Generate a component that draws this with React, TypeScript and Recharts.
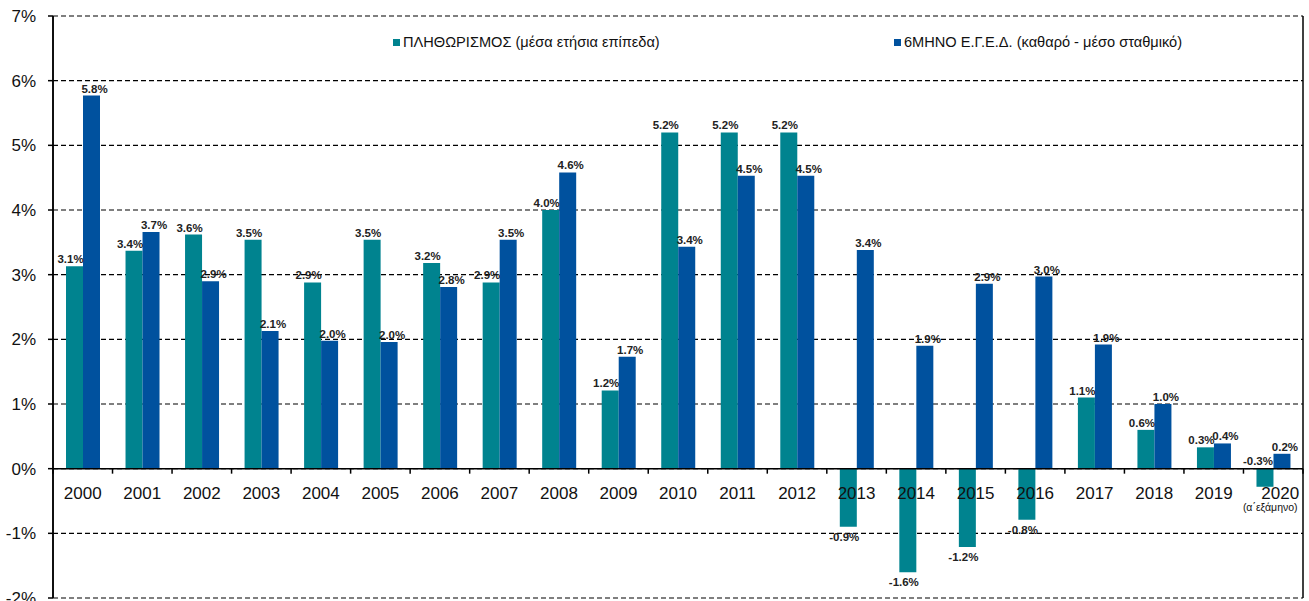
import React from 'react';
import { BarChart, Bar, XAxis, YAxis, CartesianGrid, ReferenceLine, LabelList } from 'recharts';

const years = ['2000', '2001', '2002', '2003', '2004', '2005', '2006', '2007', '2008', '2009', '2010', '2011', '2012', '2013', '2014', '2015', '2016', '2017', '2018', '2019', '2020'];
const inflation = [3.13, 3.37, 3.62, 3.54, 2.88, 3.54, 3.18, 2.88, 4.0, 1.21, 5.2, 5.2, 5.2, -0.9, -1.6, -1.21, -0.79, 1.1, 0.6, 0.33, -0.28];
const budget = [5.77, 3.66, 2.9, 2.13, 1.98, 1.96, 2.81, 3.54, 4.58, 1.73, 3.43, 4.53, 4.53, 3.38, 1.9, 2.86, 2.97, 1.92, 1.0, 0.39, 0.23];
const yTicks = [-2, -1, 0, 1, 2, 3, 4, 5, 6, 7];
const seriesNames = ['ΠΛΗΘΩΡΙΣΜΟΣ (μέσα ετήσια επίπεδα)', '6ΜΗΝΟ Ε.Γ.Ε.Δ. (καθαρό - μέσο σταθμικό)'];
const yearNotes: Record<string, string> = { '2020': '(α΄εξάμηνο)' };

const data = years.map((year, i) => ({ year, inflation: inflation[i], budget: budget[i] }));

const W = 1309;
const H = 601;
const M = { top: 16, right: 6, bottom: 2, left: 0 };
const XH = 1;
const YW = 53;
const Y_MIN = -2;
const Y_MAX = 7;
const plotH = H - M.top - M.bottom - XH;
const band = (W - M.left - M.right - YW) / years.length;
const zeroY = M.top + (plotH * Y_MAX) / (Y_MAX - Y_MIN);

const TEAL = '#00838F';
const BLUE = '#00519E';
const FONT = 'Arial, "Liberation Sans", sans-serif';

const YearTick = (props: any) => {
  const { x, payload, index } = props;
  const left = x - band / 2;
  const note = yearNotes[payload.value];
  return (
    <g>
      <line x1={left} x2={left} y1={zeroY} y2={zeroY + 5} stroke="#000" strokeWidth={1.5} />
      {index === years.length - 1 && (
        <line x1={x + band / 2} x2={x + band / 2} y1={zeroY} y2={zeroY + 5} stroke="#000" strokeWidth={1.5} />
      )}
      <text x={note ? x + 7 : x} y={zeroY + 30} textAnchor="middle" fontSize={17} fontFamily={FONT} fill="#111">
        {payload.value}
      </text>
      {note && (
        <text x={x - 3} y={zeroY + 42} textAnchor="middle" fontSize={10.5} fontFamily={FONT} fill="#111">
          {note}
        </text>
      )}
    </g>
  );
};

const legendItems = [
  { name: seriesNames[0], color: TEAL, left: 393 },
  { name: seriesNames[1], color: BLUE, left: 894 },
];

const LegendOverlay = () => (
  <div style={{ position: 'absolute', left: 0, top: 33, width: W, height: 20, pointerEvents: 'none' }}>
    {legendItems.map((it) => (
      <div
        key={it.name}
        style={{
          position: 'absolute',
          left: it.left,
          top: 0,
          display: 'flex',
          alignItems: 'center',
          fontFamily: FONT,
          fontSize: 14.6,
          lineHeight: '18px',
          color: '#111',
          whiteSpace: 'nowrap',
        }}
      >
        <span style={{ display: 'inline-block', width: 7, height: 7, background: it.color, marginRight: 3 }} />
        <span>{it.name}</span>
      </div>
    ))}
  </div>
);

const fmt = (v: any) => `${Number(v).toFixed(1)}%`;

const makeLabel = (dx: number) => (props: any) => {
  const vb = props.viewBox || props;
  const x = Number(vb.x);
  const y = Number(vb.y);
  const w = Number(vb.width);
  const h = Number(vb.height);
  const value = Number(props.value);
  const top = Math.min(y, y + h);
  const bottom = Math.max(y, y + h);
  const cx = x + w / 2 + dx;
  let ty: number;
  let cxx = cx;
  if (value >= 0) {
    ty = top - 3;
  } else if (bottom - top < 24) {
    ty = top - 4;
    cxx = cx - 3;
  } else {
    ty = bottom + 14;
  }
  return (
    <text x={cxx} y={ty} textAnchor="middle" fontSize={11.5} fontWeight={700} fill="#222" fontFamily={FONT}>
      {fmt(value)}
    </text>
  );
};

const tealLabel = makeLabel(-4);
const blueLabel = makeLabel(3);

export default function App() {
  return (
    <div style={{ position: 'absolute', left: 0, top: 0, width: W, height: H, background: '#fff' }}>
      <BarChart width={W} height={H} data={data} margin={M} barGap={0} barSize={17}>
        <CartesianGrid vertical={false} stroke="#000" strokeDasharray="5 3" strokeWidth={1.2} />
        <CartesianGrid
          horizontal={false}
          stroke="#000"
          strokeWidth={1.5}
          verticalCoordinatesGenerator={({ offset }: any) => [offset.left, offset.left + offset.width]}
        />
        <XAxis
          dataKey="year"
          height={XH}
          axisLine={false}
          tickLine={false}
          interval={0}
          tick={<YearTick />}
        />
        <YAxis
          domain={[Y_MIN, Y_MAX]}
          ticks={yTicks}
          width={YW}
          interval={0}
          allowDataOverflow
          tickFormatter={(v: number) => `${v}%`}
          tick={{ fontSize: 17, fill: '#111', fontFamily: FONT }}
          axisLine={{ stroke: '#000', strokeWidth: 1.5 }}
          tickLine={{ stroke: '#000', strokeWidth: 1.5 }}
          tickSize={5}
          tickMargin={12}
        />
        <ReferenceLine y={0} stroke="#000" strokeWidth={1.5} />
        <Bar dataKey="inflation" name={seriesNames[0]} fill={TEAL} isAnimationActive={false}>
          <LabelList dataKey="inflation" content={tealLabel} />
        </Bar>
        <Bar dataKey="budget" name={seriesNames[1]} fill={BLUE} isAnimationActive={false}>
          <LabelList dataKey="budget" content={blueLabel} />
        </Bar>
      </BarChart>
      <LegendOverlay />
    </div>
  );
}
